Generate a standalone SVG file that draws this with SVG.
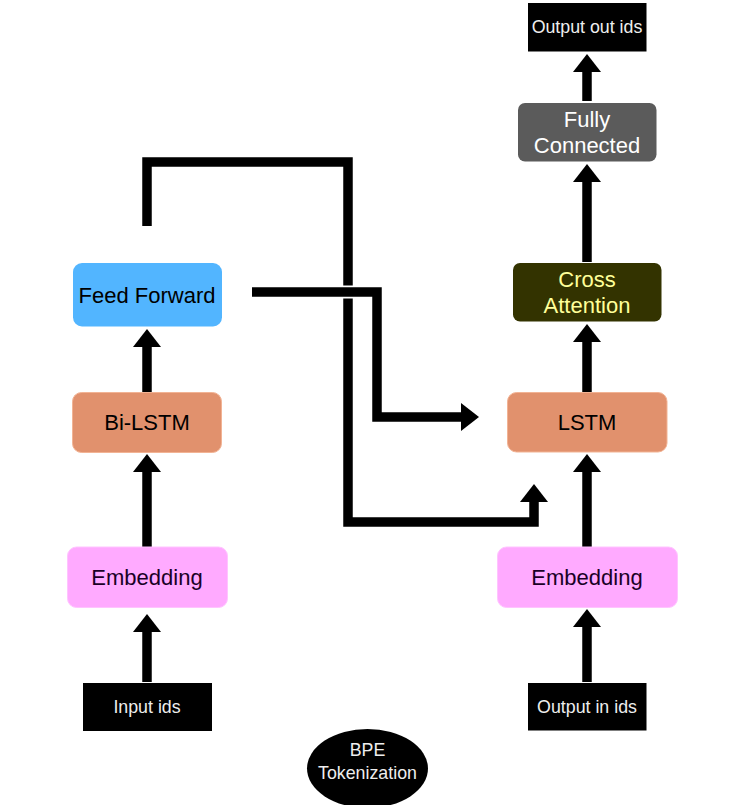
<svg xmlns="http://www.w3.org/2000/svg" width="735" height="805" viewBox="0 0 735 805">
<style>
.lbl{font-family:"Liberation Sans",Arial,sans-serif;font-size:22px;text-anchor:middle;dominant-baseline:central}
.sm{font-family:"Liberation Sans",Arial,sans-serif;font-size:17.8px;text-anchor:middle;dominant-baseline:central;fill:#eeeeee}
.ln{fill:none;stroke:#000;stroke-width:9.5;stroke-linejoin:miter;stroke-linecap:butt}
.hd{fill:#000}
</style>
<rect width="735" height="805" fill="#fff"/>
<g id="connectors">
  <path class="ln" d="M147,682 V630"/>
  <polygon class="hd" points="133,632 161,632 147,614"/>
  <path class="ln" d="M147,547 V470"/>
  <polygon class="hd" points="133,472 161,472 147,454"/>
  <path class="ln" d="M147,392 V345"/>
  <polygon class="hd" points="133,347 161,347 147,329"/>
  <path class="ln" d="M147,226 V162 H348 V522 H534 V500"/>
  <polygon class="hd" points="520,502 548,502 534,484"/>
  <path d="M252,292 H377" fill="none" stroke="#fff" stroke-width="13"/>
  <path class="ln" d="M252,292 H377 V417 H463"/>
  <polygon class="hd" points="461,403 461,431 479,417"/>
  <path class="ln" d="M587,682 V625"/>
  <polygon class="hd" points="573,627 601,627 587,609"/>
  <path class="ln" d="M587,547 V470"/>
  <polygon class="hd" points="573,472 601,472 587,454"/>
  <path class="ln" d="M587,392 V340"/>
  <polygon class="hd" points="573,342 601,342 587,324"/>
  <path class="ln" d="M587,262 V180"/>
  <polygon class="hd" points="573,182 601,182 587,164"/>
  <path class="ln" d="M587,101 V70"/>
  <polygon class="hd" points="573,72 601,72 587,54"/>
</g>
<g id="input-ids">
  <rect x="83" y="683" width="129" height="48" fill="#000"/>
  <text class="sm" x="147" y="707">Input ids</text>
</g>
<g id="embedding-left">
  <rect x="67.5" y="547" width="160" height="60.5" rx="9" fill="#ffaaff" stroke="#ffc4ff" stroke-width="1"/>
  <text class="lbl" x="147" y="577" fill="#1a0026">Embedding</text>
</g>
<g id="bi-lstm">
  <rect x="72.5" y="392.5" width="149" height="60" rx="9" fill="#e1916d" stroke="#f2b394" stroke-width="1"/>
  <text class="lbl" x="147" y="422" fill="#000">Bi-LSTM</text>
</g>
<g id="feed-forward">
  <rect x="73" y="263" width="149" height="63.5" rx="9" fill="#52b5ff"/>
  <text class="lbl" x="147" y="295" fill="#000">Feed Forward</text>
</g>
<g id="output-in-ids">
  <rect x="528" y="683" width="118.5" height="47.5" fill="#000"/>
  <text class="sm" x="587" y="707">Output in ids</text>
</g>
<g id="embedding-right">
  <rect x="497.5" y="547" width="180" height="60.5" rx="9" fill="#ffaaff" stroke="#ffc4ff" stroke-width="1"/>
  <text class="lbl" x="587" y="577" fill="#1a0026">Embedding</text>
</g>
<g id="lstm">
  <rect x="507.5" y="392.5" width="159.5" height="59.5" rx="9" fill="#e1916d" stroke="#f2b394" stroke-width="1"/>
  <text class="lbl" x="587" y="422" fill="#000">LSTM</text>
</g>
<g id="cross-attention">
  <rect x="513" y="263" width="148.5" height="58.5" rx="7" fill="#333300"/>
  <text class="lbl" x="587" y="279" fill="#ffff99">Cross</text>
  <text class="lbl" x="587" y="305" fill="#ffff99">Attention</text>
</g>
<g id="fully-connected">
  <rect x="518" y="103" width="138.5" height="58.5" rx="7" fill="#5b5b5b"/>
  <text class="lbl" x="587" y="119" fill="#ffffff">Fully</text>
  <text class="lbl" x="587" y="145" fill="#ffffff">Connected</text>
</g>
<g id="output-out-ids">
  <rect x="528" y="3" width="118.5" height="48.5" fill="#000"/>
  <text class="sm" x="587" y="27">Output out ids</text>
</g>
<g id="bpe-tokenization">
  <ellipse cx="367.5" cy="768.5" rx="60.5" ry="39.5" fill="#000"/>
  <text class="sm" x="367.5" y="750">BPE</text>
  <text class="sm" x="367.5" y="773">Tokenization</text>
</g>
</svg>
